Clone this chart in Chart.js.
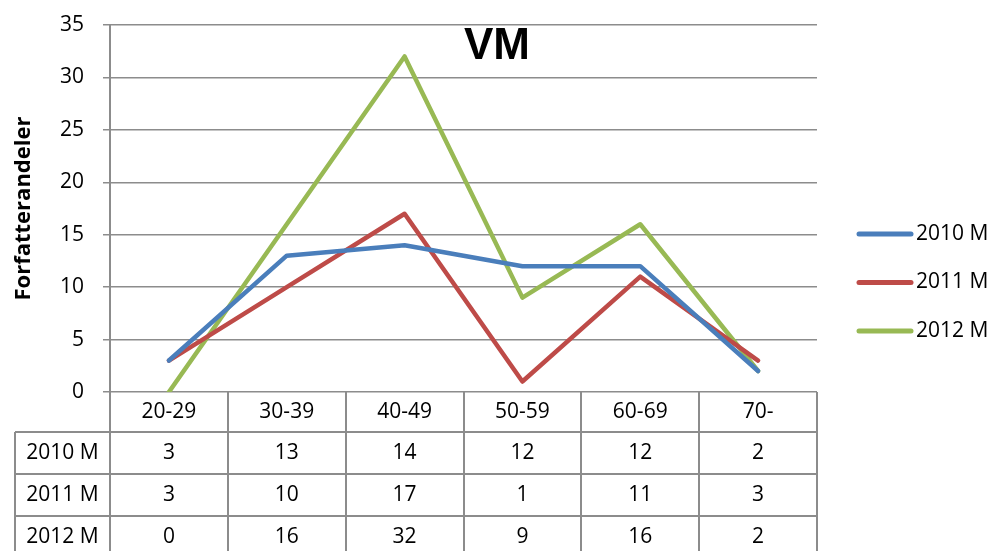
<!DOCTYPE html>
<html>
<head>
<meta charset="utf-8">
<script src="https://cdn.jsdelivr.net/npm/chart.js@4/dist/chart.umd.min.js"></script>
<style>
    body { margin: 0; background: #fff; }
    #wrap { width: 1001px; height: 551px; }
</style>
</head>
<body>
<div id="wrap"><canvas id="vmChart"></canvas></div>
<script>
const ageGroups = ['20-29', '30-39', '40-49', '50-59', '60-69', '70-'];
const seriesNames = ['2010 M', '2011 M', '2012 M'];
const m2010 = [3, 13, 14, 12, 12, 2];
const m2011 = [3, 10, 17, 1, 11, 3];
const m2012 = [0, 16, 32, 9, 16, 2];

const colors = ['#4a7ebb', '#be4b48', '#98b954'];
const gridColor = '#8c8c8c';
const textFont = '"Open Sans"';

// data table under the plot, legend on the right, title inside the plot
const extras = {
    id: 'extras',
    afterDraw(chart) {
        const ctx = chart.ctx;
        const x = chart.scales.x;
        const area = chart.chartArea;
        const half = (x.getPixelForValue(1) - x.getPixelForValue(0)) / 2;
        const headTop = area.bottom;
        const headH = 40, rowH = 42;
        const labelLeft = 15;
        const rowsTop = headTop + headH;

        ctx.save();
        ctx.strokeStyle = gridColor;
        ctx.lineWidth = 2;

        // vertical lines
        ctx.beginPath();
        for (let i = 0; i <= ageGroups.length; i++) {
            const px = Math.round(area.left + i * half * 2);
            ctx.moveTo(px, headTop);
            ctx.lineTo(px, chart.height);
        }
        ctx.moveTo(labelLeft, rowsTop);
        ctx.lineTo(labelLeft, chart.height);
        // horizontal lines
        for (let r = 0; r < chart.data.datasets.length; r++) {
            const py = rowsTop + r * rowH;
            ctx.moveTo(labelLeft, py);
            ctx.lineTo(area.right, py);
        }
        ctx.stroke();

        ctx.fillStyle = '#000';
        ctx.font = '21px ' + textFont;
        ctx.textAlign = 'center';
        ctx.textBaseline = 'middle';
        ageGroups.forEach((g, i) => {
            ctx.fillText(g, x.getPixelForValue(i), headTop + headH / 2);
        });
        chart.data.datasets.forEach((ds, r) => {
            const cy = rowsTop + r * rowH + rowH / 2;
            ctx.fillText(ds.label, (labelLeft + area.left) / 2, cy);
            ds.data.forEach((v, i) => {
                ctx.fillText(String(v), x.getPixelForValue(i), cy);
            });
        });

        // legend
        ctx.textAlign = 'left';
        ctx.lineCap = 'round';
        ctx.lineWidth = 5;
        chart.data.datasets.forEach((ds, r) => {
            const ly = 234 + r * 48.5;
            ctx.strokeStyle = ds.borderColor;
            ctx.beginPath();
            ctx.moveTo(859, ly);
            ctx.lineTo(911, ly);
            ctx.stroke();
            ctx.fillText(ds.label, 916, ly);
        });

        // title
        ctx.textAlign = 'center';
        ctx.font = 'bold 44px "Liberation Sans"';
        ctx.fillText('VM', 497, 47);
        ctx.restore();
    }
};

const ctx1 = document.getElementById('vmChart').getContext('2d');

const vmChart = new Chart(ctx1, {
    type: 'line',
    data: {
        labels: ageGroups,
        datasets: [m2010, m2011, m2012].map((d, i) => ({
            label: seriesNames[i],
            data: d,
            borderColor: colors[i],
            backgroundColor: colors[i],
            borderWidth: 4.5,
            borderJoinStyle: 'round',
            borderCapStyle: 'round',
            pointRadius: 0,
            tension: 0
        }))
    },
    options: {
        responsive: true,
        maintainAspectRatio: false,
        animation: false,
        layout: {
            padding: { top: 25, right: 184, bottom: 159, left: 0 }
        },
        plugins: {
            legend: { display: false },
            title: { display: false },
            tooltip: { enabled: false }
        },
        scales: {
            x: {
                type: 'category',
                display: false,
                offset: true
            },
            y: {
                min: 0,
                max: 35,
                afterFit(scale) {
                    scale.width = 110;
                    scale.paddingTop = 0;
                    scale.paddingBottom = 0;
                },
                ticks: {
                    stepSize: 5,
                    padding: 19,
                    color: '#000',
                    font: { family: 'Open Sans', size: 21 }
                },
                grid: {
                    color: gridColor,
                    lineWidth: 1.5,
                    tickLength: 7,
                    tickColor: gridColor
                },
                border: { color: gridColor, width: 2 },
                title: {
                    display: true,
                    text: 'Forfatterandeler',
                    color: '#000',
                    padding: { top: 11 },
                    font: { family: 'Open Sans', size: 22, weight: 'bold' }
                }
            }
        }
    },
    plugins: [extras]
});
</script>
</body>
</html>
